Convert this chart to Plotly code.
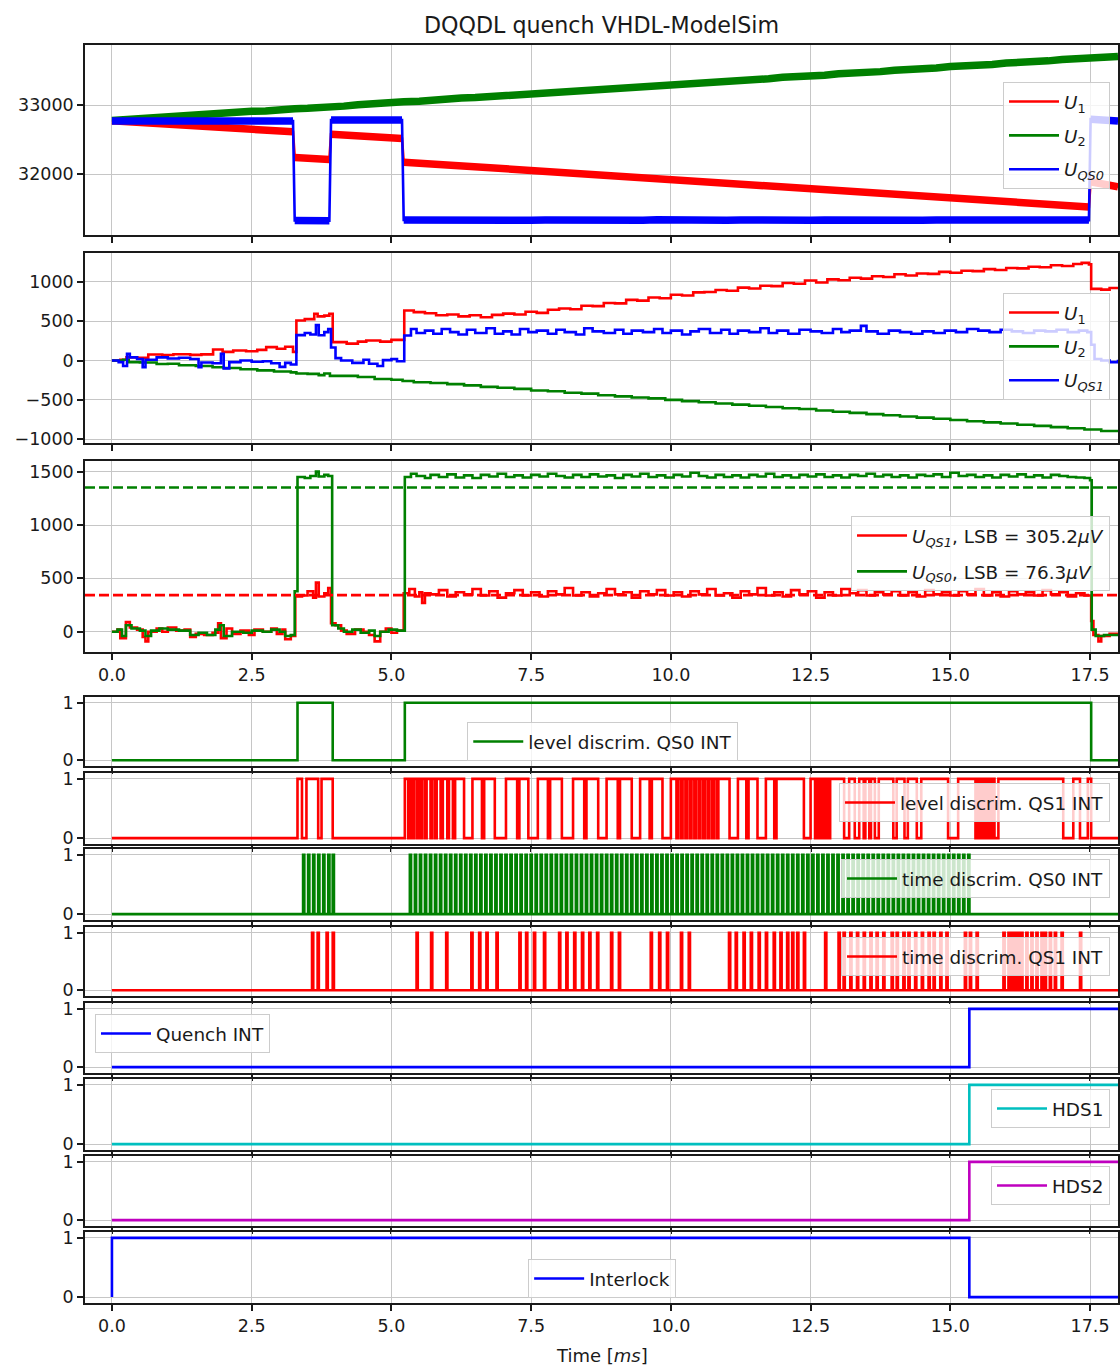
import plotly.graph_objects as go

# ------------------------------------------------------------------ data
X_TICKS = [0.0, 2.5, 5.0, 7.5, 10.0, 12.5, 15.0, 17.5]

# panel 1 (raw ADC values)
P1_T = [0.00, 0.25, 0.50, 0.75, 1.00, 1.25, 1.50, 1.75, 2.00, 2.25, 2.50, 2.75, 3.00,
        3.24, 3.27, 3.50, 3.70, 3.89, 3.92, 4.15, 4.40, 4.65, 4.90, 5.19, 5.22,
        5.50, 5.75, 6.00, 6.25, 6.50, 6.75, 7.00, 7.25, 7.50, 7.75,
        8.00, 8.25, 8.50, 8.75, 9.00, 9.25, 9.50, 9.75,
        10.00, 10.25, 10.50, 10.75, 11.00, 11.25, 11.50, 11.75,
        12.00, 12.25, 12.50, 12.75, 13.00, 13.25, 13.50, 13.75,
        14.00, 14.25, 14.50, 14.75, 15.00, 15.25, 15.50, 15.75,
        16.00, 16.25, 16.50, 16.75, 17.00, 17.25,
        17.48, 17.51, 17.75, 18.00]
P1_U1 = [32773, 32762, 32751, 32737, 32726, 32711, 32700, 32687, 32675, 32661, 32650, 32636, 32625,
         32612, 32240, 32232, 32222, 32212, 32576, 32565, 32553, 32540, 32528, 32515, 32172,
         32157, 32144, 32131, 32117, 32104, 32091, 32078, 32064, 32051, 32038,
         32025, 32011, 31998, 31985, 31972, 31958, 31945, 31932,
         31919, 31905, 31892, 31879, 31866, 31852, 31839, 31826,
         31813, 31799, 31786, 31773, 31760, 31746, 31733, 31720,
         31707, 31693, 31680, 31667, 31654, 31640, 31627, 31614,
         31601, 31587, 31574, 31561, 31548, 31534,
         31522, 31888, 31860, 31815]
P1_U2 = [32775, 32790, 32795, 32818, 32820, 32842, 32848, 32860, 32882, 32885, 32908, 32912, 32935,
         32938, 32947, 32952, 32970, 32972, 32980, 32984, 33005, 33010, 33032, 33040, 33048,
         33055, 33078, 33080, 33103, 33108, 33120, 33142, 33146, 33168, 33172,
         33194, 33198, 33220, 33224, 33246, 33250, 33271, 33276,
         33297, 33302, 33323, 33328, 33349, 33354, 33375, 33380,
         33401, 33406, 33427, 33432, 33453, 33458, 33479, 33484,
         33505, 33510, 33531, 33536, 33557, 33562, 33583, 33588,
         33609, 33614, 33635, 33640, 33661, 33666,
         33686, 33680, 33701, 33705]
P1_UQS0 = [32770, 32768, 32772, 32765, 32770, 32767, 32773, 32766, 32770, 32764, 32771, 32768, 32770,
           32768, 31325, 31322, 31328, 31323, 32782, 32785, 32779, 32784, 32780, 32783, 31333,
           31330, 31335, 31328, 31333, 31330, 31336, 31329, 31334, 31330, 31333,
           31329, 31335, 31331, 31334, 31328, 31333, 31330, 31336,
           31331, 31333, 31329, 31335, 31330, 31334, 31328, 31333,
           31331, 31336, 31329, 31334, 31330, 31333, 31328, 31335,
           31330, 31334, 31329, 31333, 31331, 31335, 31328, 31334,
           31330, 31333, 31329, 31335, 31331, 31333,
           31332, 32795, 32780, 32770]

# panel 2
P2_U1_T = [0.0, 0.15, 0.26, 0.45, 0.65, 0.9, 1.1, 1.4, 1.6, 1.81,
           1.98, 2.17, 2.4, 2.6, 2.76, 2.95, 3.1, 3.24, 3.30, 3.45,
           3.62, 3.68, 3.8, 3.89, 3.95, 4.2, 4.4, 4.55, 4.8, 5.0,
           5.23, 5.4, 5.6, 5.8, 6.0, 6.2, 6.4, 6.6, 6.8, 7.0,
           7.2, 7.4, 7.6, 7.8, 8.0, 8.2, 8.4, 8.6, 8.8, 9.0,
           9.2, 9.4, 9.6, 9.8, 10.0, 10.2, 10.4, 10.6, 10.8, 11.0,
           11.2, 11.4, 11.6, 11.8, 12.0, 12.2, 12.4, 12.6, 12.8, 13.0,
           13.2, 13.4, 13.6, 13.8, 14.0, 14.2, 14.4, 14.6, 14.8, 15.0,
           15.2, 15.4, 15.6, 15.8, 16.0, 16.2, 16.4, 16.6, 16.8, 17.0,
           17.2, 17.35, 17.48, 17.52, 17.7, 17.85, 18.0]
P2_U1_V = [0, 10, 42, 35, 76, 70, 80, 72, 78, 140,
           110, 127, 118, 135, 170, 150, 175, 110, 508, 525,
           593, 560, 570, 593, 233, 215, 240, 254, 240, 262,
           635, 615, 600, 575, 585, 560, 575, 550, 580, 595,
           585, 620, 605, 645, 660, 650, 695, 690, 730, 725,
           770, 760, 800, 790, 835, 825, 865, 870, 895, 885,
           925, 915, 950, 945, 985, 975, 1016, 990, 1030, 1020,
           1050, 1040, 1070, 1060, 1095, 1080, 1105, 1100, 1125, 1115,
           1140, 1135, 1160, 1150, 1175, 1170, 1190, 1185, 1210, 1200,
           1225, 1240, 1220, 910, 900, 920, 915]
P2_U2_T = [0, 0.2, 0.3, 0.5, 0.8, 1.0, 1.2, 1.5, 1.8, 2.0,
           2.3, 2.6, 2.9, 3.2, 3.3, 3.5, 3.7, 3.8, 3.9, 4.1,
           4.4, 4.7, 5.0, 5.2, 5.4, 5.7, 6.0, 6.3, 6.6, 6.9,
           7.2, 7.5, 7.8, 8.1, 8.4, 8.7, 9.0, 9.3, 9.6, 9.9,
           10.2, 10.5, 10.8, 11.1, 11.4, 11.7, 12.0, 12.3, 12.6, 12.9,
           13.2, 13.5, 13.8, 14.1, 14.4, 14.7, 15.0, 15.3, 15.6, 15.9,
           16.2, 16.5, 16.8, 17.1, 17.4, 17.7, 18.0]
P2_U2_V = [0, 10, -20, -25, -45, -40, -60, -70, -85, -95,
           -110, -125, -140, -150, -165, -170, -185, -165, -195, -195,
           -210, -235, -245, -260, -275, -285, -300, -315, -335, -345,
           -360, -380, -390, -410, -420, -440, -455, -470, -480, -500,
           -515, -530, -545, -560, -575, -590, -605, -615, -635, -650,
           -665, -680, -695, -710, -725, -740, -755, -770, -785, -800,
           -815, -830, -845, -860, -875, -895, -905]
P2_QS1_T = [0, 0.12, 0.2, 0.27, 0.32, 0.45, 0.55, 0.6, 0.8, 1.0,
            1.2, 1.4, 1.55, 1.6, 1.8, 1.95, 2.0, 2.1, 2.3, 2.5,
            2.7, 2.85, 3.0, 3.1, 3.2, 3.3, 3.45, 3.55, 3.65, 3.7,
            3.8, 3.87, 3.92, 4.0, 4.1, 4.3, 4.5, 4.6, 4.75, 4.85,
            5.0, 5.1, 5.23, 5.35, 5.45, 5.6, 5.75, 5.9, 6.05, 6.2,
            6.35, 6.5, 6.7, 6.85, 7.0, 7.15, 7.3, 7.45, 7.6, 7.8,
            7.95, 8.1, 8.3, 8.45, 8.6, 8.8, 9.0, 9.15, 9.3, 9.5,
            9.7, 9.85, 10.0, 10.2, 10.35, 10.5, 10.7, 10.9, 11.05, 11.2,
            11.4, 11.6, 11.75, 11.9, 12.1, 12.3, 12.5, 12.7, 12.9, 13.05,
            13.2, 13.4, 13.5, 13.7, 13.9, 14.1, 14.3, 14.5, 14.7, 14.9,
            15.1, 15.3, 15.5, 15.7, 15.9, 16.1, 16.3, 16.5, 16.7, 16.9,
            17.1, 17.3, 17.45, 17.52, 17.58, 17.7, 17.85, 18.0]
P2_QS1_V = [0, -20, -70, 85, 40, 20, -85, 10, 40, 25,
            35, 20, -85, -25, -35, 85, -100, -20, 0, -15,
            -10, -35, -80, -30, -50, 322, 350, 330, 450, 320,
            360, 400, 165, 30, 0, -30, 10, -40, -70, 5,
            20, -10, 318, 400, 350, 380, 340, 400, 360, 330,
            390, 350, 410, 340, 370, 330, 400, 360, 380, 340,
            390, 360, 330, 410, 370, 350, 390, 340, 380, 360,
            400, 350, 380, 330, 370, 400, 350, 390, 340, 380,
            360, 410, 350, 380, 340, 390, 370, 350, 400, 360,
            380, 440, 370, 340, 380, 360, 340, 370, 350, 380,
            360, 400, 380, 360, 390, 370, 350, 380, 370, 390,
            360, 380, 360, 200, 20, 0, -20, 10]

# panel 3
P3_T_HIGH = [5.7, 5.85, 6.0, 6.15, 6.3, 6.45, 6.6, 6.75, 6.9, 7.05,
             7.2, 7.35, 7.5, 7.65, 7.8, 7.95, 8.1, 8.25, 8.4, 8.55,
             8.7, 8.85, 9.0, 9.15, 9.3, 9.45, 9.6, 9.75, 9.9, 10.05,
             10.2, 10.35, 10.5, 10.65, 10.8, 10.95, 11.1, 11.25, 11.4, 11.55,
             11.7, 11.85, 12.0, 12.15, 12.3, 12.45, 12.6, 12.75, 12.9, 13.05,
             13.2, 13.35, 13.5, 13.65, 13.8, 13.95, 14.1, 14.25, 14.4, 14.55,
             14.7, 14.85, 15.0, 15.15, 15.3, 15.45, 15.6, 15.75, 15.9, 16.05,
             16.2, 16.35, 16.5, 16.65, 16.8, 16.95, 17.1, 17.25, 17.4]
P3_QS1_T_EARLY = [0, 0.1, 0.15, 0.25, 0.32, 0.45, 0.55, 0.6, 0.65, 0.8,
                  0.9, 1.0, 1.15, 1.3, 1.4, 1.5, 1.65, 1.8, 1.9, 1.95,
                  2.05, 2.15, 2.3, 2.45, 2.55, 2.7, 2.85, 2.95, 3.05, 3.1,
                  3.2, 3.28, 3.4, 3.5, 3.6, 3.65, 3.7, 3.8, 3.87, 3.92,
                  4.0, 4.1, 4.2, 4.35, 4.5, 4.6, 4.7, 4.8, 4.9, 5.0,
                  5.1, 5.22, 5.32, 5.42, 5.5, 5.55, 5.6]
P3_QS1_V_EARLY = [0, 20, -60, 90, 40, 20, -50, -90, 0, 30,
                  0, 40, 10, 20, -50, -20, -30, -10, 80, -60,
                  30, -20, 10, -30, 20, 0, 30, -20, 20, -70,
                  -40, 330, 340, 380, 320, 460, 330, 360, 410, 80,
                  60, 10, -20, 20, 0, -30, -90, 0, 30, -10,
                  10, 360, 400, 330, 370, 270, 360]
P3_QS1_V_HIGH = [350, 390, 330, 370, 350, 400, 340, 380, 320, 360,
                 390, 340, 370, 330, 380, 350, 410, 340, 370, 330,
                 360, 400, 350, 370, 320, 380, 350, 390, 340, 370,
                 330, 380, 350, 400, 340, 360, 320, 380, 350, 410,
                 340, 370, 330, 390, 350, 380, 320, 370, 340, 400,
                 360, 390, 340, 370, 350, 380, 340, 370, 330, 390,
                 350, 370, 340, 380, 350, 400, 340, 370, 330, 380,
                 350, 370, 340, 390, 350, 370, 330, 360, 340]
P3_QS1_T_TAIL = [17.52, 17.56, 17.65, 17.7, 17.85, 18.0]
P3_QS1_V_TAIL = [100, -30, -90, -40, -20, -40]
P3_QS0_T_EARLY = [0, 0.1, 0.18, 0.25, 0.35, 0.5, 0.6, 0.7, 0.85, 1.0,
                  1.2, 1.4, 1.55, 1.7, 1.85, 1.93, 2.0, 2.15, 2.35, 2.5,
                  2.7, 2.85, 3.0, 3.1, 3.2, 3.27, 3.32, 3.45, 3.55, 3.65,
                  3.7, 3.8, 3.87, 3.94, 4.05, 4.15, 4.3, 4.45, 4.6, 4.7,
                  4.8, 4.95, 5.1, 5.24, 5.35, 5.45, 5.6]
P3_QS0_V_EARLY = [0, 20, -40, 60, 30, 10, -40, 10, 30, 20,
                  10, -30, -10, -30, 20, 60, -40, 0, -10, 10,
                  0, 20, 0, -40, -30, 380, 1450, 1440, 1460, 1500,
                  1455, 1470, 1460, 60, 30, 0, 20, -10, 10, -40,
                  0, 20, 10, 1450, 1480, 1460, 1440]
P3_QS0_V_HIGH = [1470, 1450, 1475, 1445, 1465, 1440, 1470, 1455, 1480, 1450,
                 1465, 1445, 1470, 1455, 1480, 1460, 1445, 1470, 1450, 1475,
                 1455, 1465, 1440, 1470, 1455, 1480, 1450, 1465, 1445, 1470,
                 1455, 1490, 1460, 1445, 1470, 1450, 1465, 1445, 1470, 1455,
                 1480, 1450, 1465, 1445, 1470, 1455, 1475, 1450, 1465, 1445,
                 1470, 1460, 1480, 1455, 1470, 1450, 1465, 1445, 1470, 1460,
                 1475, 1450, 1490, 1460, 1470, 1450, 1465, 1445, 1470, 1455,
                 1475, 1450, 1465, 1445, 1470, 1460, 1450, 1445, 1440]
P3_QS0_T_TAIL = [17.5, 17.53, 17.6, 17.75, 18.0]
P3_QS0_V_TAIL = [1420, 20, -40, -30, -30]
THRESH_QS1 = 343
THRESH_QS0 = 1352

# digital signals (toggle times, starting low)
LD_QS0_EDGES = [3.32, 3.95, 5.24, 17.52]
LD_QS1_EDGES = [3.32, 3.40, 3.48, 3.69, 3.75, 3.95, 5.24,
                5.30, 5.33, 5.37, 5.40, 5.45, 5.48, 5.52, 5.55, 5.60, 5.63, 5.70, 5.73,
                5.78, 5.81, 5.88, 5.92, 6.00, 6.03, 6.10, 6.14, 6.30, 6.45, 6.62, 6.66,
                6.85, 7.05, 7.25, 7.29, 7.45, 7.62, 7.80, 7.84, 8.05, 8.25, 8.45, 8.49,
                8.70, 8.85, 9.05, 9.09, 9.30, 9.45, 9.62, 9.66, 9.85, 10.00,
                10.10, 10.13, 10.18, 10.21, 10.26, 10.29, 10.34, 10.37, 10.42, 10.45,
                10.50, 10.53, 10.58, 10.61, 10.66, 10.69, 10.74, 10.77, 10.82, 10.85,
                11.05, 11.20, 11.35, 11.39, 11.55, 11.70, 11.85, 11.89,
                12.38, 12.50, 12.58, 12.61, 12.64, 12.67, 12.70, 12.72, 12.76, 12.79,
                12.82, 12.85, 13.10, 13.19, 13.29, 13.37, 13.45, 13.48, 13.55, 13.58,
                13.65, 13.72, 13.98, 14.04, 14.18, 14.24, 14.40, 14.48, 14.96, 15.14,
                15.45, 15.48, 15.52, 15.55, 15.58, 15.61, 15.65, 15.68, 15.72, 15.75,
                15.79, 15.86, 17.02, 17.20, 17.32, 17.46, 17.52]
TD_QS0_SPIKES = [3.42, 3.51, 3.60, 3.69, 3.78, 3.87, 3.95,
                 5.33, 5.42, 5.51, 5.60, 5.69, 5.78, 5.87, 5.96, 6.05, 6.14, 6.23, 6.32,
                 6.41, 6.50, 6.59, 6.68, 6.77, 6.86, 6.95, 7.04, 7.13, 7.22, 7.31, 7.40,
                 7.49, 7.58, 7.67, 7.76, 7.85, 7.94, 8.03, 8.12, 8.21, 8.30, 8.39, 8.48,
                 8.57, 8.66, 8.75, 8.84, 8.93, 9.02, 9.11, 9.20, 9.29, 9.38, 9.47, 9.56,
                 9.65, 9.74, 9.83, 9.92, 10.01, 10.10, 10.19, 10.28, 10.37, 10.46, 10.55,
                 10.64, 10.73, 10.82, 10.91, 11.00, 11.09, 11.18, 11.27, 11.36, 11.45,
                 11.54, 11.63, 11.72, 11.81, 11.90, 11.99, 12.08, 12.17, 12.26, 12.35,
                 12.44, 12.53, 12.62, 12.71, 12.80, 12.89, 12.98, 13.07, 13.16, 13.25,
                 13.34, 13.43, 13.52, 13.61, 13.70, 13.79, 13.88, 13.97, 14.06, 14.15,
                 14.24, 14.33, 14.42, 14.51, 14.60, 14.69, 14.78, 14.87, 14.96, 15.05,
                 15.14, 15.23, 15.32]
TD_QS1_SPIKES = [3.58, 3.68, 3.84, 3.95,
                 5.45, 5.71, 5.98, 6.43, 6.57, 6.70, 6.88, 7.29, 7.41, 7.55, 7.73,
                 8.00, 8.13, 8.27, 8.41, 8.54, 8.68, 8.93, 9.07, 9.64, 9.79, 9.93,
                 10.18, 10.32, 11.04, 11.16, 11.30, 11.43, 11.57, 11.70, 11.84,
                 11.96, 12.08, 12.17, 12.26, 12.38, 12.76, 13.00, 13.09, 13.21, 13.33,
                 13.45, 13.57, 13.68, 13.80, 13.95, 14.04, 14.16, 14.25, 14.37, 14.49,
                 14.61, 14.70, 14.82, 14.93, 15.26, 15.35, 15.47, 15.95, 16.04, 16.09,
                 16.15, 16.21, 16.27, 16.36, 16.45, 16.54, 16.63, 16.69, 16.78, 16.87,
                 16.99, 17.32]
QUENCH_EDGES = [15.34]
HDS1_EDGES = [15.34]
HDS2_EDGES = [15.34]
INTERLOCK_EDGES = [0.0, 15.34]

Y_TICKS = [[32000, 33000], [-1000, -500, 0, 500, 1000], [0, 500, 1000, 1500]] + [[0, 1]] * 8
Y_TICKTEXT = [["32000", "33000"], ["\u22121000", "\u2212500", "0", "500", "1000"],
              ["0", "500", "1000", "1500"]] + [["0", "1"]] * 8

# ------------------------------------------------------------------ layout
W, H = 1120, 1367
ML, MR, MT, MB = 85, 0, 45, 64
PH = H - MT - MB
PW = W - ML - MR
T_END = 18.0
FONT = "DejaVu Sans"
TXT = "#1a1a1a"


def py2paper(py):
    return (H - MB - py) / PH


def px2paper(px):
    return (px - ML) / PW


PANELS = [(45, 235), (253, 443), (461, 652), (697, 766), (773, 844), (849, 920),
          (927, 996), (1003, 1073), (1079, 1150), (1156, 1226), (1232, 1303)]
Y_RANGES = [[31116, 33870], [-1047, 1365], [-190, 1600]] + [[-0.1, 1.1]] * 8


def edges_xy(edges):
    x, y, v = [0.0], [0], 0
    for e in edges:
        v = 1 - v
        x.append(e)
        y.append(v)
    x.append(T_END)
    y.append(v)
    return x, y


def spikes_xy(times, w=0.022):
    x, y = [0.0], [0]
    for t in times:
        x += [t, t + w]
        y += [1, 0]
    x.append(T_END)
    y.append(0)
    return x, y


def split_jumps(t, v, thr=250):
    """same samples, broken where the signal jumps (for the thick noise band)"""
    x, y = [t[0]], [v[0]]
    for k in range(1, len(t)):
        if abs(v[k] - v[k - 1]) > thr:
            x.append(None)
            y.append(None)
        x.append(t[k])
        y.append(v[k])
    return x, y


fig = go.Figure()


def ax(i):
    return ("x", "y") if i == 1 else (f"x{i}", f"y{i}")


def leg(i):
    return "legend" if i == 1 else f"legend{i}"


def add(i, x, y, color, name, width=2.6, shape="hv", dash=None, show=True):
    xa, ya = ax(i)
    fig.add_trace(go.Scatter(
        x=x, y=y, mode="lines", name=name,
        line=dict(color=color, width=width, shape=shape, dash=dash),
        xaxis=xa, yaxis=ya, legend=leg(i), showlegend=show,
        legendgroup=f"{name}-{i}", hoverinfo="skip", connectgaps=False))


RED, GREEN, BLUE, CYAN, MAG = "#ff0000", "#008000", "#0000ff", "#00bfbf", "#bf00bf"

# panel 1: thin line incl. transitions + thick noise band on the plateaus
for vals, col, nm in [(P1_U1, RED, "<i>U</i><sub>1</sub>"),
                      (P1_U2, GREEN, "<i>U</i><sub>2</sub>"),
                      (P1_UQS0, BLUE, "<i>U<sub>QS0</sub></i>")]:
    add(1, *split_jumps(P1_T, vals), col, nm + "band", width=7.5, shape="linear", show=False)
    add(1, P1_T, vals, col, nm, width=2.6, shape="linear")
# panel 2
add(2, P2_U1_T, P2_U1_V, RED, "<i>U</i><sub>1</sub>")
add(2, P2_U2_T, P2_U2_V, GREEN, "<i>U</i><sub>2</sub>")
add(2, P2_QS1_T, P2_QS1_V, BLUE, "<i>U<sub>QS1</sub></i>")
# panel 3
add(3, P3_QS1_T_EARLY + P3_T_HIGH + P3_QS1_T_TAIL,
    P3_QS1_V_EARLY + P3_QS1_V_HIGH + P3_QS1_V_TAIL, RED,
    "<i>U<sub>QS1</sub></i>, LSB = 305.2<i>μV</i>")
add(3, P3_QS0_T_EARLY + P3_T_HIGH + P3_QS0_T_TAIL,
    P3_QS0_V_EARLY + P3_QS0_V_HIGH + P3_QS0_V_TAIL, GREEN,
    "<i>U<sub>QS0</sub></i>, LSB = 76.3<i>μV</i>")
add(3, [-0.482, T_END], [THRESH_QS0, THRESH_QS0], GREEN, "thr0", shape="linear",
    dash="10px,4px", show=False)
add(3, [-0.482, T_END], [THRESH_QS1, THRESH_QS1], RED, "thr1", shape="linear",
    dash="10px,4px", show=False)
# digital panels
add(4, *edges_xy(LD_QS0_EDGES), GREEN, "level discrim. QS0 INT")
add(5, *edges_xy(LD_QS1_EDGES), RED, "level discrim. QS1 INT")
add(6, *spikes_xy(TD_QS0_SPIKES), GREEN, "time discrim. QS0 INT")
add(7, *spikes_xy(TD_QS1_SPIKES), RED, "time discrim. QS1 INT")
add(8, *edges_xy(QUENCH_EDGES), BLUE, "Quench INT")
add(9, *edges_xy(HDS1_EDGES), CYAN, "HDS1")
add(10, *edges_xy(HDS2_EDGES), MAG, "HDS2")
add(11, *edges_xy(INTERLOCK_EDGES), BLUE, "Interlock")

layout = dict(
    width=W, height=H, margin=dict(l=ML, r=MR, t=MT, b=MB),
    paper_bgcolor="white", plot_bgcolor="white",
    font=dict(family=FONT, size=17.5, color=TXT),
    title=dict(text="DQQDL quench VHDL-ModelSim", x=0.5, xref="paper", xanchor="center",
               y=1 - 25 / H, yref="container", yanchor="middle",
               font=dict(size=22.2, color=TXT, family=FONT)),
    annotations=[dict(text="Time [<i>ms</i>]", x=0.5, xref="paper", y=py2paper(1355),
                      yref="paper", showarrow=False, xanchor="center", yanchor="middle",
                      font=dict(size=18, color=TXT, family=FONT))],
)

axis_common = dict(ticks="outside", ticklen=6, tickwidth=1.5, tickcolor=TXT,
                   showline=True, linecolor=TXT, linewidth=1.6, mirror=True,
                   showgrid=True, gridcolor="#c6c6c6", gridwidth=1.3, zeroline=False,
                   tickfont=dict(size=17.5, color=TXT, family=FONT))

for i in range(1, 12):
    top, bot = PANELS[i - 1]
    xa, ya = ax(i)
    xkey = "xaxis" if i == 1 else f"xaxis{i}"
    ykey = "yaxis" if i == 1 else f"yaxis{i}"
    xd = dict(axis_common, domain=[0, 1], anchor=ya, range=[-0.482, T_END],
              tickvals=X_TICKS, tickformat=".1f", showticklabels=(i in (3, 11)))
    if i > 1:
        xd["matches"] = "x"
    layout[xkey] = xd
    layout[ykey] = dict(axis_common, domain=[py2paper(bot), py2paper(top)], anchor=xa,
                        range=Y_RANGES[i - 1], tickvals=Y_TICKS[i - 1],
                        ticktext=Y_TICKTEXT[i - 1])

LEG_POS = {
    1: dict(x=px2paper(1112), y=py2paper(82), xanchor="right", gap=7),
    2: dict(x=px2paper(1112), y=py2paper(293), xanchor="right", gap=7),
    3: dict(x=px2paper(1112), y=py2paper(516), xanchor="right", gap=9),
    4: dict(x=px2paper(468), y=py2paper(722), xanchor="left", gap=0),
    5: dict(x=px2paper(1112), y=py2paper(783), xanchor="right", gap=0),
    6: dict(x=px2paper(1112), y=py2paper(859), xanchor="right", gap=0),
    7: dict(x=px2paper(1112), y=py2paper(937), xanchor="right", gap=0),
    8: dict(x=px2paper(95), y=py2paper(1014), xanchor="left", gap=0),
    9: dict(x=px2paper(1112), y=py2paper(1089), xanchor="right", gap=0),
    10: dict(x=px2paper(1112), y=py2paper(1166), xanchor="right", gap=0),
    11: dict(x=px2paper(529), y=py2paper(1259), xanchor="left", gap=0),
}
for i, p in LEG_POS.items():
    layout[leg(i)] = dict(x=p["x"], y=p["y"], xanchor=p["xanchor"], yanchor="top",
                          xref="paper", yref="paper",
                          bgcolor="rgba(255,255,255,0.8)", bordercolor="#cccccc",
                          borderwidth=1, tracegroupgap=p["gap"], itemwidth=50,
                          font=dict(size=18.4, color=TXT, family=FONT))

fig.update_layout(**layout)
fig.write_html("out.html",
               config={"displayModeBar": False},
               post_script="document.body.style.margin='0px';"
                           "document.body.style.overflow='hidden';")
